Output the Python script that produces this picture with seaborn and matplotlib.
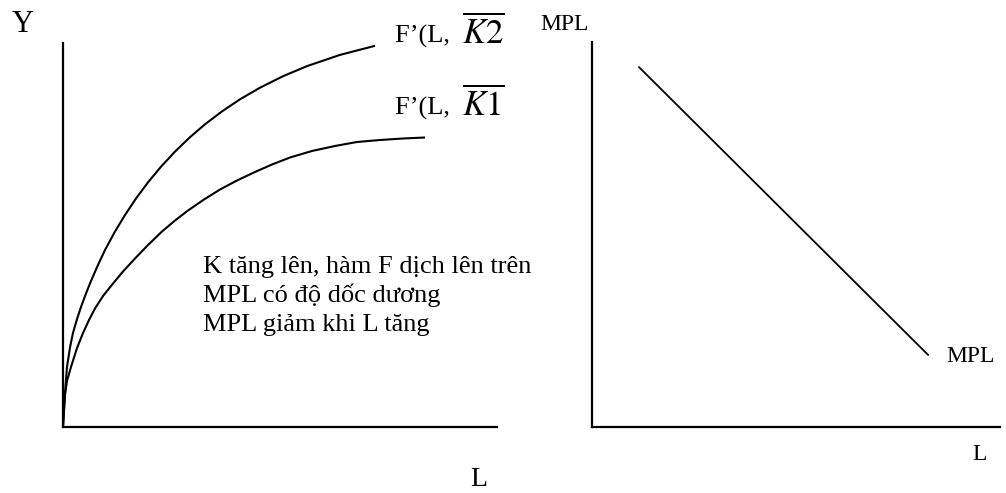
import matplotlib
matplotlib.use("Agg")
import matplotlib.pyplot as plt
import seaborn as sns
import pandas as pd

# ---- data (axis units 0-10) ----
L_k2 = [0.000, 0.023, 0.046, 0.092, 0.161, 0.230, 0.323, 0.415, 0.530, 0.645, 0.806, 0.968,
        1.198, 1.429, 1.682, 1.959, 2.258, 2.581, 2.926, 3.272, 3.664, 4.078, 4.539, 5.069,
        5.622, 6.382, 7.189]
Y_k2 = [0.000, 0.495, 0.885, 1.563, 2.070, 2.448, 2.813, 3.125, 3.477, 3.802, 4.219, 4.609,
        5.091, 5.521, 5.951, 6.372, 6.779, 7.172, 7.547, 7.883, 8.219, 8.534, 8.836, 9.135,
        9.398, 9.690, 9.927]

L_k1 = [0.000, 0.023, 0.046, 0.092, 0.184, 0.323, 0.461, 0.599, 0.737, 0.922, 1.106, 1.382,
        1.659, 1.959, 2.281, 2.581, 2.880, 3.249, 3.618, 4.009, 4.424, 4.816, 5.230, 5.737,
        6.267, 6.774, 7.304, 7.834, 8.341]
Y_k1 = [0.000, 0.417, 0.833, 1.198, 1.563, 2.057, 2.448, 2.786, 3.086, 3.411, 3.672, 4.049,
        4.388, 4.740, 5.091, 5.378, 5.638, 5.924, 6.185, 6.419, 6.641, 6.836, 7.018, 7.188,
        7.318, 7.422, 7.474, 7.513, 7.539]

L_mpl = [1.15, 8.24]
MPL = [9.35, 1.87]

notes = ["K tăng lên, hàm F dịch lên trên",
         "MPL có độ dốc dương",
         "MPL giảm khi L tăng"]

sns.set_style("white")
plt.rcParams["font.family"] = ["Liberation Serif", "DejaVu Serif"]
plt.rcParams["mathtext.fontset"] = "stix"

W, H = 1006, 493
fig = plt.figure(figsize=(W / 100, H / 100), dpi=100)


def px_axes(x0, y0, x1, y1):
    return fig.add_axes([x0 / W, 1 - y1 / H, (x1 - x0) / W, (y1 - y0) / H])


def ftext(x, y, s, **kw):
    fig.text(x / W, 1 - y / H, s, color="black", **kw)


def style(ax):
    ax.set_xlim(0, 10)
    ax.set_ylim(0, 10)
    ax.set_xticks([])
    ax.set_yticks([])
    ax.set_xlabel("")
    ax.set_ylabel("")
    for side in ["top", "right"]:
        ax.spines[side].set_visible(False)
    for side in ["left", "bottom"]:
        ax.spines[side].set_color("black")
        ax.spines[side].set_linewidth(1.6)


# -------------------------------
# Left: production function shifts
# -------------------------------
ax1 = px_axes(63, 43, 497, 427)
df1 = pd.DataFrame({"L": L_k2, "Y": Y_k2})
df2 = pd.DataFrame({"L": L_k1, "Y": Y_k1})
for d in [df1, df2]:
    sns.lineplot(data=d, x="L", y="Y", sort=False, color="black", lw=1.5,
                 solid_joinstyle="round", solid_capstyle="butt", ax=ax1)
style(ax1)

ftext(12, 25, "Y", fontsize=22, va="center")
ftext(470, 480, "L", fontsize=20, va="center")

ftext(395, 43, "F’(L, ", fontsize=19, va="baseline")
ftext(462, 43, r"$\overline{K2}$", fontsize=25, va="baseline")
ftext(395, 115, "F’(L, ", fontsize=19, va="baseline")
ftext(462, 115, r"$\overline{K1}$", fontsize=25, va="baseline")

for i, line in enumerate(notes):
    ftext(203, 273 + i * 29, line, fontsize=19, va="baseline")

# -------------------------------
# Right: MPL
# -------------------------------
ax2 = px_axes(592, 42, 1000, 427)
sns.lineplot(x=L_mpl, y=MPL, color="black", lw=1.3, ax=ax2)
style(ax2)

ftext(540, 24, "MPL", fontsize=17, va="center")
ftext(946, 357, "MPL", fontsize=17, va="center")
ftext(972, 455, "L", fontsize=17, va="center")

plt.savefig("out.png", dpi=100)
